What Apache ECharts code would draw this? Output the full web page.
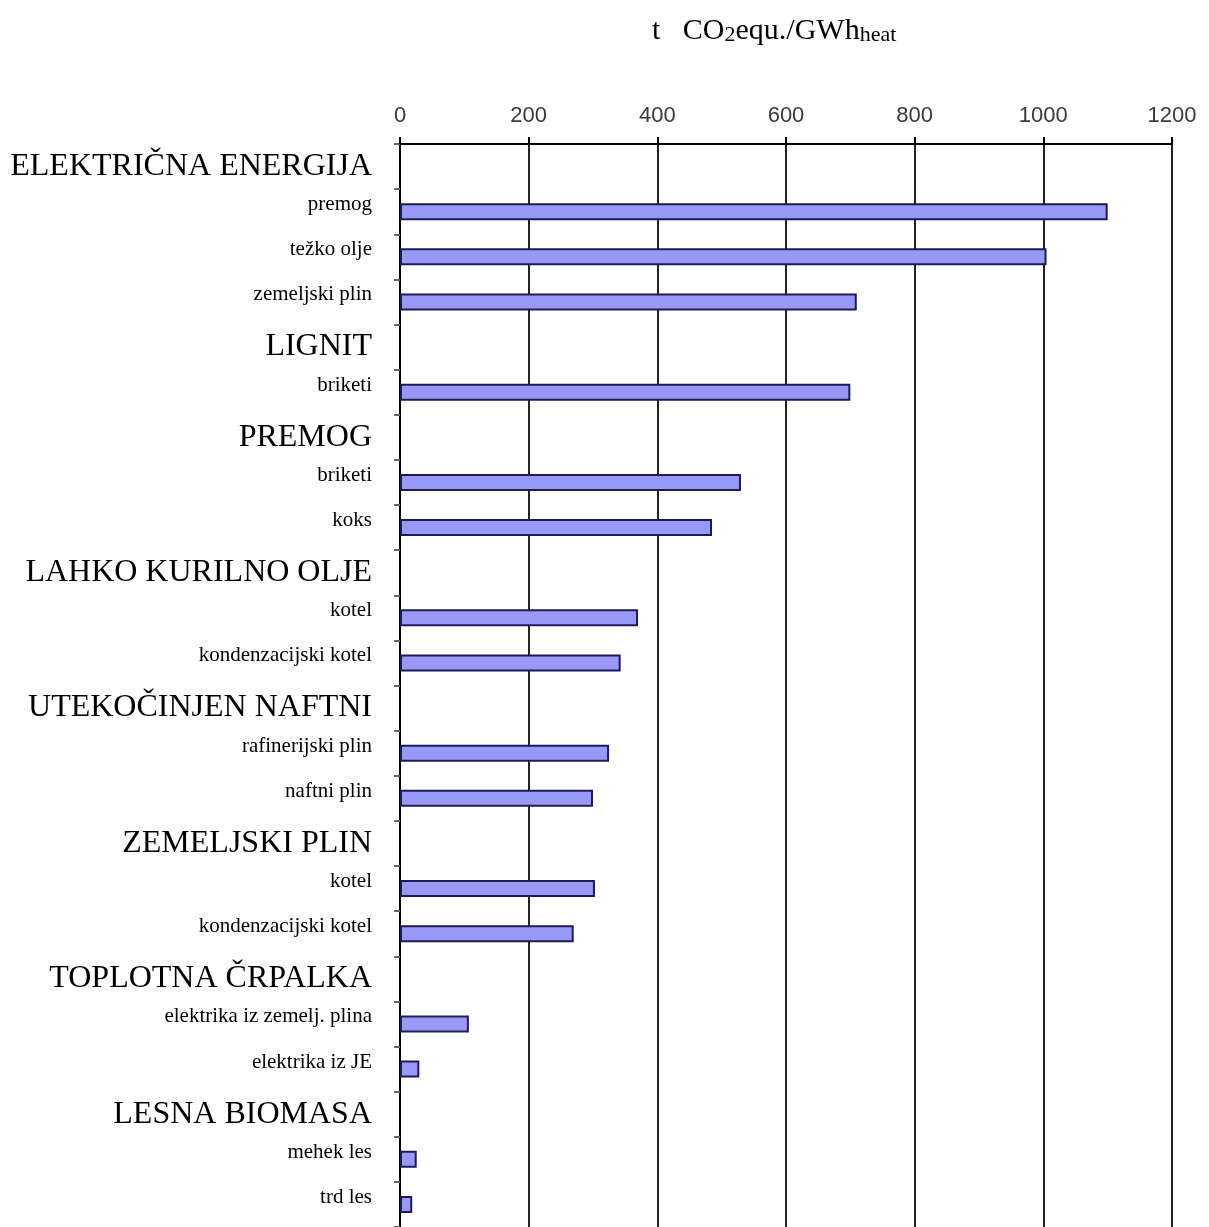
<!DOCTYPE html>
<html>
<head>
<meta charset="utf-8">
<script src="https://cdn.jsdelivr.net/npm/echarts@6/dist/echarts.min.js"></script>
<style>
  html, body { margin: 0; padding: 0; background: #fff; }
  #chart { width: 1209px; height: 1227px; }
</style>
</head>
<body>
<div id="chart"></div>
<script>
// Category labels (top to bottom); group headers have no value (null)
const categories = [
  'ELEKTRIČNA ENERGIJA', 'premog', 'težko olje', 'zemeljski plin',
  'LIGNIT', 'briketi',
  'PREMOG', 'briketi', 'koks',
  'LAHKO KURILNO OLJE', 'kotel', 'kondenzacijski kotel',
  'UTEKOČINJEN NAFTNI', 'rafinerijski plin', 'naftni plin',
  'ZEMELJSKI PLIN', 'kotel', 'kondenzacijski kotel',
  'TOPLOTNA ČRPALKA', 'elektrika iz zemelj. plina', 'elektrika iz JE',
  'LESNA BIOMASA', 'mehek les', 'trd les'
];
const values = [
  null, 1100, 1005, 710,
  null, 700,
  null, 530, 485,
  null, 370, 343,
  null, 325, 300,
  null, 303, 270,
  null, 107, 30,
  null, 26, 19
];
const xTicks = [0, 200, 400, 600, 800, 1000, 1200];

const chart = echarts.init(document.getElementById('chart'), null, { renderer: 'canvas' });

const option = {
  animation: false,
  backgroundColor: '#ffffff',
  title: {
    left: 652,
    top: 16,
    padding: 0,
    text: '{a|t}{a|   CO}{s|2}{a|equ./GWh}{s|heat}',
    textStyle: {
      fontWeight: 'normal',
      rich: {
        a: { fontFamily: 'Liberation Serif', fontWeight: 'normal', fontSize: 30, color: '#000', lineHeight: 30, verticalAlign: 'middle' },
        s: { fontFamily: 'Liberation Serif', fontWeight: 'normal', fontSize: 22, color: '#000', lineHeight: 18, verticalAlign: 'bottom' }
      }
    }
  },
  grid: {
    left: 400,
    top: 144,
    width: 772,
    height: 1085,
    containLabel: false
  },
  xAxis: {
    type: 'value',
    position: 'top',
    min: xTicks[0],
    max: xTicks[xTicks.length - 1],
    interval: xTicks[1] - xTicks[0],
    axisLine: { show: true, lineStyle: { color: '#000', width: 2 } },
    axisTick: { show: true, inside: false, length: 7, lineStyle: { color: '#000', width: 2 } },
    axisLabel: {
      margin: 17,
      fontFamily: 'Liberation Sans',
      fontSize: 22,
      color: '#3a3a3a',
      formatter: function (v) { return String(v); }
    },
    splitLine: { show: true, lineStyle: { color: '#222', width: 2 } }
  },
  yAxis: {
    type: 'category',
    inverse: true,
    data: categories,
    boundaryGap: true,
    axisLine: { show: true, lineStyle: { color: '#000', width: 2 } },
    axisTick: { show: true, length: 6, alignWithLabel: false, lineStyle: { color: '#666', width: 2 } },
    splitLine: { show: false },
    axisLabel: {
      margin: 28,
      interval: 0,
      formatter: function (v, i) {
        return values[i] == null ? '{g|' + v + '}' : '{s|' + v + '}';
      },
      rich: {
        g: { fontFamily: 'Liberation Serif', fontSize: 32, color: '#000' },
        s: { fontFamily: 'Liberation Serif', fontSize: 21, color: '#000', padding: [0, 0, 14, 0] }
      }
    }
  },
  series: [{
    type: 'bar',
    data: values,
    barWidth: 17,
    itemStyle: {
      color: '#9898f7',
      borderColor: '#1c1c55',
      borderWidth: 2
    }
  }]
};
chart.setOption(option);
</script>
</body>
</html>
